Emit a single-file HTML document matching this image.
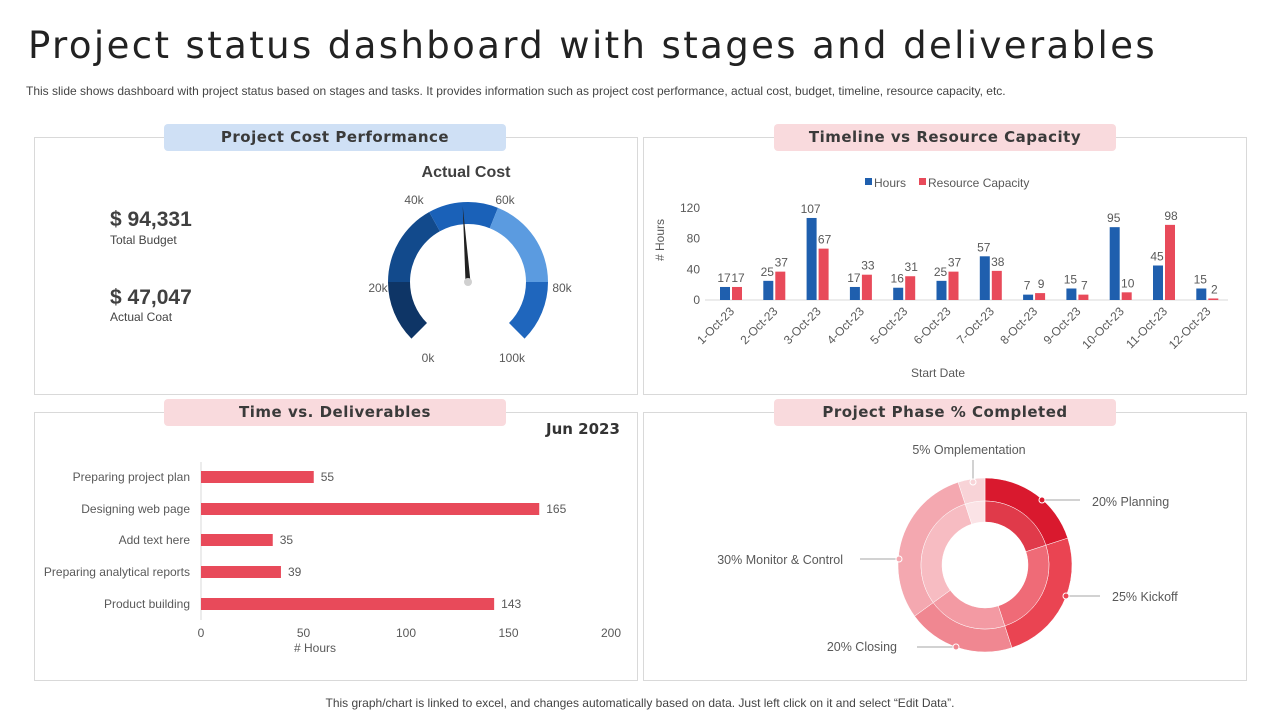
<!DOCTYPE html>
<html><head><meta charset="utf-8">
<style>
body{margin:0;width:1280px;height:720px;background:#fff;font-family:"Liberation Sans",sans-serif;position:relative;overflow:hidden;color:#404040}
.abs{position:absolute}
.panel{position:absolute;border:1px solid #d9d9d9;background:#fff;box-sizing:border-box}
.pill{position:absolute;height:27px;border-radius:4px;font-family:"DejaVu Sans",sans-serif;font-weight:bold;font-size:15px;color:#3a3a3a;text-align:center;line-height:27px;letter-spacing:0.5px}
svg text{font-family:"Liberation Sans",sans-serif}
</style></head><body>
<div class="abs" style="left:28px;top:24px;font-family:'DejaVu Sans',sans-serif;font-size:37px;color:#222;letter-spacing:2.4px">Project status dashboard with stages and deliverables</div>
<div class="abs" style="left:26px;top:84px;font-size:12px;color:#444">This slide shows dashboard with project status based on stages and tasks. It provides information such as project cost performance, actual cost, budget, timeline, resource capacity, etc.</div>

<div class="panel" style="left:34px;top:137px;width:604px;height:258px"></div>
<div class="panel" style="left:643px;top:137px;width:604px;height:258px"></div>
<div class="panel" style="left:34px;top:412px;width:604px;height:269px"></div>
<div class="panel" style="left:643px;top:412px;width:604px;height:269px"></div>

<div class="pill" style="left:164px;top:124px;width:342px;background:#cfe0f5">Project  Cost Performance</div>
<div class="pill" style="left:774px;top:124px;width:342px;background:#f9dadd">Timeline vs Resource Capacity</div>
<div class="pill" style="left:164px;top:399px;width:342px;background:#f9dadd">Time vs. Deliverables</div>
<div class="pill" style="left:774px;top:399px;width:342px;background:#f9dadd">Project Phase % Completed</div>

<div class="abs" style="left:110px;top:208px;font-size:21px;font-weight:bold;color:#404040">$ 94,331</div>
<div class="abs" style="left:110px;top:233px;font-size:12px;color:#444">Total  Budget</div>
<div class="abs" style="left:110px;top:286px;font-size:21px;font-weight:bold;color:#404040">$ 47,047</div>
<div class="abs" style="left:110px;top:310px;font-size:12px;color:#444">Actual Coat</div>

<svg class="abs" style="left:0;top:0" width="1280" height="720" id="svg"></svg>

<div class="abs" style="left:546px;top:420px;font-family:'DejaVu Sans',sans-serif;font-weight:bold;font-size:15px;color:#333">Jun 2023</div>
<div class="abs" style="left:0;width:1280px;text-align:center;top:696px;font-size:12px;color:#444">This graph/chart is linked to excel,  and changes automatically based on data. Just left click on it and select “Edit Data”.</div>

<script>
// Gauge data
const gaugeTicks=["0k","20k","40k","60k","80k","100k"];
const gaugeTickAngles=[-135,-90,-29,22,90,135];
const gaugeColors=["#0e3566","#124a8c","#1a61b8","#5b9be0","#1f66bd"];
const gaugeValue=47047, gaugeMax=100000;
// Timeline data
const dates=["1-Oct-23","2-Oct-23","3-Oct-23","4-Oct-23","5-Oct-23","6-Oct-23","7-Oct-23","8-Oct-23","9-Oct-23","10-Oct-23","11-Oct-23","12-Oct-23"];
const hours=[17,25,107,17,16,25,57,7,15,95,45,15];
const capacity=[17,37,67,33,31,37,38,9,7,10,98,2];
const yTicks=[0,40,80,120];
// Deliverables
const tasks=["Preparing project plan","Designing web page","Add text here","Preparing analytical reports","Product building"];
const taskHours=[55,165,35,39,143];
const xTicks=[0,50,100,150,200];
// Phases
const phases=["Planning","Kickoff","Closing","Monitor & Control","Omplementation"];
const phasePct=[20,25,20,30,5];
const phaseOuter=["#d9192e","#ea4452","#f08791","#f4a8b0","#f8d3d7"];
const phaseInner=["#e03a4a","#ef6b77","#f39aa3","#f7bcc2","#fbe3e6"];

const S=document.getElementById('svg');const NS="http://www.w3.org/2000/svg";
function mk(t,a,p){const e=document.createElementNS(NS,t);for(const k in a)e.setAttribute(k,a[k]);(p||S).appendChild(e);return e}
function txt(x,y,s,a){const e=mk('text',Object.assign({x:x,y:y,'font-size':12,fill:'#595959'},a||{}));e.textContent=s;return e}
function pol(cx,cy,r,deg){const a=(deg-90)*Math.PI/180;return[cx+r*Math.cos(a),cy+r*Math.sin(a)]}
function arc(cx,cy,r1,r2,a0,a1){const p1=pol(cx,cy,r2,a0),p2=pol(cx,cy,r2,a1),p3=pol(cx,cy,r1,a1),p4=pol(cx,cy,r1,a0);const l=(a1-a0)>180?1:0;
return `M${p1}A${r2},${r2} 0 ${l} 1 ${p2}L${p3}A${r1},${r1} 0 ${l} 0 ${p4}Z`}

// Gauge
const gcx=468,gcy=282;
let e=txt(466,177,"Actual Cost",{'font-size':16,'font-weight':'bold',fill:'#404040','text-anchor':'middle'});

for(let i=0;i<5;i++){e=mk('path',{d:arc(gcx,gcy,58,80,gaugeTickAngles[i],gaugeTickAngles[i+1]),fill:gaugeColors[i]});
}
const labelPos=[[428,362],[378,292],[414,204],[505,204],[562,292],[512,362]];
gaugeTicks.forEach((t,i)=>{e=txt(labelPos[i][0],labelPos[i][1],t,{'text-anchor':'middle'});
});
const na=-135+gaugeValue/gaugeMax*270+4;
const tip=pol(gcx,gcy,76,na),b1=pol(gcx,gcy,2.5,na-90),b2=pol(gcx,gcy,2.5,na+90);
e=mk('polygon',{points:`${tip} ${b1} ${b2}`,fill:'#222'});
e=mk('circle',{cx:gcx,cy:gcy,r:4,fill:'#d0d0d0'});

// Timeline chart
const x0=725,dx=43.3,y0=300,yS=92/120;
const yy=v=>y0-v*yS;
mk('line',{x1:705,x2:1228,y1:y0,y2:y0,stroke:'#d9d9d9'});
yTicks.forEach(v=>{e=txt(700,yy(v)+4,String(v),{'text-anchor':'end'});});
e=txt(0,0,"# Hours",{transform:'translate(664,240) rotate(-90)','text-anchor':'middle'});
e=txt(938,377,"Start Date",{'text-anchor':'middle'});
mk('rect',{x:865,y:178,width:7,height:7,fill:'#1f5fae'});txt(874,187,"Hours");
mk('rect',{x:919,y:178,width:7,height:7,fill:'#e84a5a'});txt(928,187,"Resource Capacity");
dates.forEach((d,i)=>{const cx=x0+i*dx;
e=mk('rect',{x:cx-5,y:yy(hours[i]),width:10,height:hours[i]*yS,fill:'#1f5fae'});
e=mk('rect',{x:cx+7,y:yy(capacity[i]),width:10,height:capacity[i]*yS,fill:'#e84a5a'});
txt(cx-1,yy(hours[i])-5,String(hours[i]),{'text-anchor':'middle'});
txt(cx+13,yy(capacity[i])-5,String(capacity[i]),{'text-anchor':'middle'});
e=txt(0,0,d,{transform:`translate(${cx+10},${312}) rotate(-45)`,'text-anchor':'end'});
});

// Deliverables
const hx0=201,hS=410/200;const rowY=[477,509,540,572,604];
mk('line',{x1:hx0,x2:hx0,y1:462,y2:620,stroke:'#d9d9d9'});
xTicks.forEach(v=>{e=txt(hx0+v*hS,637,String(v),{'text-anchor':'middle'});});
txt(315,652,"# Hours",{'text-anchor':'middle'});
tasks.forEach((t,i)=>{const y=rowY[i];
e=txt(190,y+4,t,{'text-anchor':'end'});
e=mk('rect',{x:hx0,y:y-6,width:taskHours[i]*hS,height:12,fill:'#e84a5a'});
txt(hx0+taskHours[i]*hS+7,y+4,String(taskHours[i]));
});

// Phase donut
const dcx=985,dcy=565;let a=0;
const total=phasePct.reduce((s,v)=>s+v,0);
phasePct.forEach((p,i)=>{const a1=a+p/total*360;
e=mk('path',{d:arc(dcx,dcy,64,87,a,a1),fill:phaseOuter[i],stroke:'#fff','stroke-width':0.5});
e=mk('path',{d:arc(dcx,dcy,43,64,a,a1),fill:phaseInner[i],stroke:'#fff','stroke-width':0.5});
a=a1;});
const lab=[
 {t:"20% Planning",dot:[1042,500],line:[[1042,500],[1080,500]],tx:1092,ty:506,anc:'start'},
 {t:"25% Kickoff",dot:[1066,596],line:[[1066,596],[1100,596]],tx:1112,ty:601,anc:'start'},
 {t:"20% Closing",dot:[956,647],line:[[917,647],[956,647]],tx:897,ty:651,anc:'end'},
 {t:"30% Monitor & Control",dot:[899,559],line:[[860,559],[899,559]],tx:843,ty:564,anc:'end'},
 {t:"5% Omplementation",dot:[973,482],line:[[973,460],[973,482]],tx:969,ty:454,anc:'middle'}];
lab.forEach((L,i)=>{mk('polyline',{points:L.line.map(p=>p.join(',')).join(' '),stroke:'#a6a6a6',fill:'none'});
mk('circle',{cx:L.dot[0],cy:L.dot[1],r:3,fill:phaseOuter[i],stroke:'#fff'});
e=txt(L.tx,L.ty,L.t,{'text-anchor':L.anc,'font-size':12.5});});
</script>
</body></html>
